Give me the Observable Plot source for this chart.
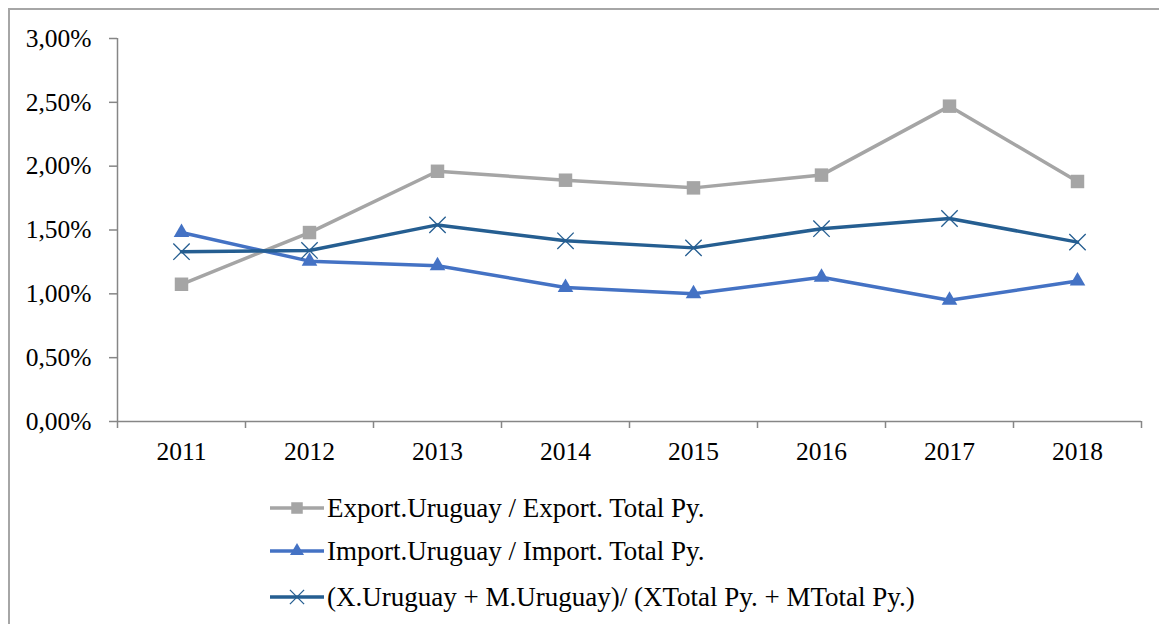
<!DOCTYPE html>
<html>
<head>
<meta charset="utf-8">
<script src="https://cdn.jsdelivr.net/npm/d3@7"></script>
<script src="https://cdn.jsdelivr.net/npm/@observablehq/plot@0.6"></script>
<style>
  html, body { margin: 0; padding: 0; background: #fff; }
  body { width: 1159px; height: 624px; overflow: hidden; position: relative; font-family: "Liberation Serif", "Times New Roman", serif; }
  #frame { position: absolute; left: 8px; top: 8px; width: 1160px; height: 640px; border-left: 2px solid #a6a6a6; border-top: 2px solid #a6a6a6; }
  #chart { position: absolute; left: 0; top: 0; }
  #legend { position: absolute; left: 268px; top: 0; }
  .row { position: absolute; left: 0; display: flex; align-items: center; white-space: nowrap; font-size: 27px; color: #000; }
  .row svg { display: block; margin-right: 3px; }
</style>
</head>
<body>
<div id="frame"></div>
<div id="chart"></div>
<div id="legend"></div>
<script>
const years = [2011, 2012, 2013, 2014, 2015, 2016, 2017, 2018];
const exportShare = [0.01075, 0.0148, 0.0196, 0.0189, 0.0183, 0.0193, 0.0247, 0.0188];
const importShare = [0.0148, 0.01256, 0.0122, 0.0105, 0.0100, 0.0113, 0.0095, 0.0110];
const totalShare = [0.0133, 0.0134, 0.0154, 0.01415, 0.0136, 0.0151, 0.0159, 0.01405];
const yTicks = [0, 0.005, 0.01, 0.015, 0.02, 0.025, 0.03];
const bandEdges = [2010.5, 2011.5, 2012.5, 2013.5, 2014.5, 2015.5, 2016.5, 2017.5, 2018.5];

const seriesNames = [
  "Export.Uruguay / Export. Total Py.",
  "Import.Uruguay / Import. Total Py.",
  "(X.Uruguay + M.Uruguay)/ (XTotal Py. + MTotal Py.)"
];
const seriesColors = ["#a5a5a5", "#4472c4", "#255e91"];
const seriesSymbols = ["square", "triangle", "times"];
const seriesValues = [exportShare, importShare, totalShare];

const rows = [];
seriesValues.forEach((vals, s) => {
  vals.forEach((v, i) => rows.push({ series: seriesNames[s], year: years[i], value: v }));
});

const fmt = v => d3.format(".2f")(v * 100).replace(".", ",") + "%";
const axisColor = "#868686";

const marks = [
  Plot.ruleY([0], { stroke: axisColor, strokeWidth: 1.5 }),
  Plot.ruleX([2010.5], { y1: 0, y2: 0.03, stroke: axisColor, strokeWidth: 1.5 }),
  Plot.axisY({ ticks: yTicks, tickFormat: fmt, tickSize: 8, tickPadding: 18, stroke: axisColor, strokeWidth: 1.5, fontSize: 25.5, fill: "#000", label: null, anchor: "left" }),
  Plot.axisX({ ticks: bandEdges, tickFormat: () => "", tickSize: 7, stroke: axisColor, strokeWidth: 1.5, label: null }),
  Plot.axisX({ ticks: years, tickFormat: d => String(d), tickSize: 0, tickPadding: 20, fontSize: 25.5, fill: "#000", label: null })
];
seriesNames.forEach((name, s) => {
  const data = rows.filter(d => d.series === name);
  marks.push(Plot.line(data, { x: "year", y: "value", stroke: seriesColors[s], strokeWidth: 3.5 }));
});
seriesNames.forEach((name, s) => {
  const data = rows.filter(d => d.series === name);
  const sym = seriesSymbols[s];
  if (sym === "times") {
    marks.push(Plot.dot(data, { x: "year", y: "value", symbol: "times", r: 7.5, stroke: seriesColors[s], strokeWidth: 1.3, fill: "none" }));
  } else if (sym === "square") {
    marks.push(Plot.dot(data, { x: "year", y: "value", symbol: "square", r: 7.6, fill: seriesColors[s], stroke: "none" }));
  } else {
    marks.push(Plot.dot(data, { x: "year", y: "value", symbol: "triangle", r: 5.8, fill: seriesColors[s], stroke: "none" }));
  }
});

const chart = Plot.plot({
  width: 1159,
  height: 470,
  marginLeft: 117,
  marginRight: 18,
  marginTop: 38,
  marginBottom: 49,
  style: { fontFamily: "'Liberation Serif', 'Times New Roman', serif", background: "transparent", overflow: "visible" },
  x: { type: "linear", domain: [2010.5, 2018.5], axis: null },
  y: { domain: [0, 0.03], axis: null },
  marks
});
document.getElementById("chart").appendChild(chart);

// Legend
const legend = document.getElementById("legend");
const rowCenters = [508, 551, 597];
seriesNames.forEach((name, s) => {
  const row = document.createElement("div");
  row.className = "row";
  const ns = "http://www.w3.org/2000/svg";
  const svg = document.createElementNS(ns, "svg");
  svg.setAttribute("width", 56); svg.setAttribute("height", 20);
  const line = document.createElementNS(ns, "line");
  line.setAttribute("x1", 2); line.setAttribute("x2", 56); line.setAttribute("y1", 10); line.setAttribute("y2", 10);
  line.setAttribute("stroke", seriesColors[s]); line.setAttribute("stroke-width", 3.5);
  svg.appendChild(line);
  const path = document.createElementNS(ns, "path");
  const symType = { square: d3.symbolSquare, triangle: d3.symbolTriangle, times: d3.symbolTimes }[seriesSymbols[s]];
  const rr = { square: 6.5, triangle: 5.2, times: 6.5 }[seriesSymbols[s]];
  path.setAttribute("d", d3.symbol(symType, Math.PI * rr * rr)());
  path.setAttribute("transform", "translate(29,10)");
  if (seriesSymbols[s] === "times") { path.setAttribute("fill", "none"); path.setAttribute("stroke", seriesColors[s]); path.setAttribute("stroke-width", 1.3); }
  else path.setAttribute("fill", seriesColors[s]);
  svg.appendChild(path);
  row.appendChild(svg);
  const span = document.createElement("span");
  span.textContent = name;
  row.appendChild(span);
  row.style.top = (rowCenters[s] - 17) + "px";
  row.style.height = "34px";
  legend.appendChild(row);
});
</script>
</body>
</html>
